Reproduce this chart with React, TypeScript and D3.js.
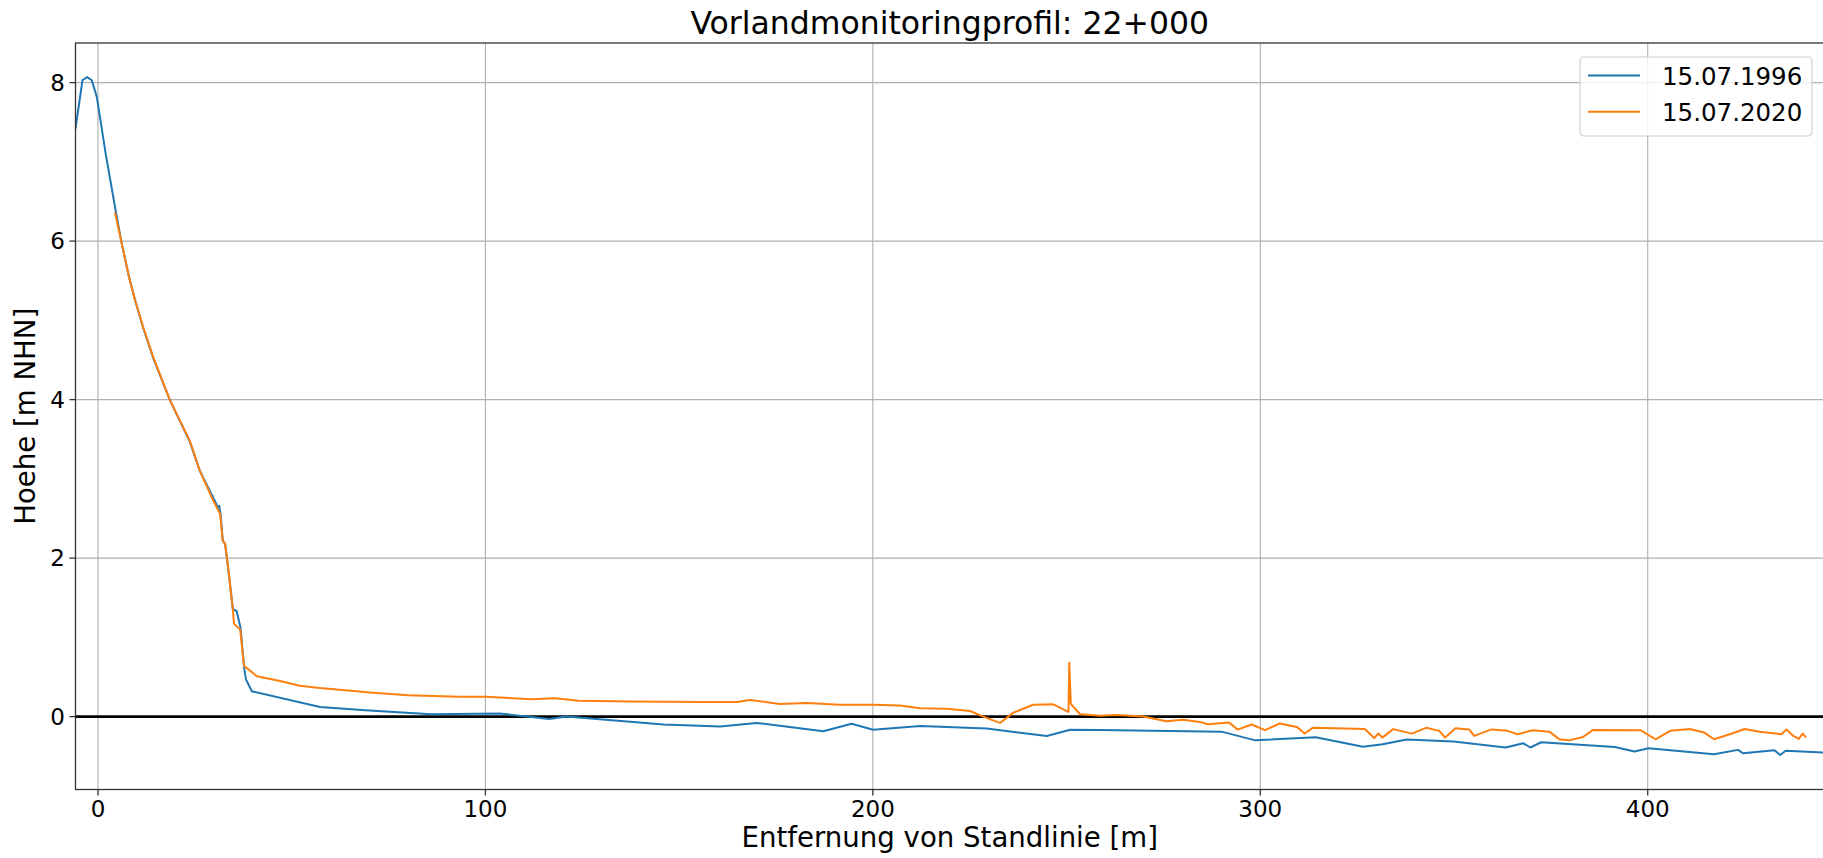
import React from "react";
import * as d3 from "d3";

// ---- data ----
const dist1996 = [-5.8, -4.0, -2.8, -1.6, -0.3, 2, 4.4, 6, 8, 9.6, 11.7, 14.3, 18.6, 23.7, 26.3, 31.0, 31.3, 31.7, 32.2, 32.8, 33.6, 34.8, 35.8, 36.8, 37.7, 38.2, 39.7, 57.3, 69, 86, 103.6, 116.5, 120.8, 146, 160.6, 170, 187.2, 194.5, 200.1, 212.2, 229.4, 244.9, 250.9, 258.7, 290, 298.7, 314.3, 326.5, 331.6, 337.8, 349.9, 363.3, 367.9, 369.7, 372.5, 391.5, 396.6, 400.2, 417.1, 423.3, 424.6, 432.7, 434.2, 435.6, 448];
const elev1996 = [7.42, 8.03, 8.07, 8.03, 7.82, 7.1, 6.43, 6.0, 5.55, 5.25, 4.9, 4.52, 3.99, 3.47, 3.10, 2.64, 2.66, 2.53, 2.22, 2.18, 1.88, 1.36, 1.33, 1.12, 0.62, 0.47, 0.32, 0.12, 0.08, 0.03, 0.04, -0.03, 0.0, -0.1, -0.126, -0.08, -0.185, -0.09, -0.165, -0.12, -0.15, -0.245, -0.165, -0.17, -0.19, -0.30, -0.26, -0.38, -0.35, -0.29, -0.315, -0.39, -0.337, -0.39, -0.324, -0.383, -0.44, -0.40, -0.476, -0.42, -0.463, -0.425, -0.484, -0.43, -0.46];

const dist2020 = [4.4, 6, 8, 9.6, 11.7, 14.3, 18.6, 23.7, 26.3, 29.8, 31.5, 32.2, 32.8, 33.6, 34.8, 35.1, 36.7, 37.7, 41, 47, 52.1, 57.3, 71, 80, 93.4, 100, 112, 118, 124, 138, 155.4, 164.9, 168.3, 176, 183, 191.5, 200.1, 207, 212.2, 219, 225.1, 228.5, 232.8, 236.3, 241.4, 246.6, 250.5, 250.7, 251.1, 253.5, 258.7, 262.9, 269.8, 275.8, 280.1, 284.4, 286.5, 292, 294.1, 297.8, 301.2, 305, 309.4, 311.5, 313.6, 327, 329.4, 330.5, 331.5, 334.3, 339.1, 342.8, 346.2, 347.7, 350.4, 353.9, 355.2, 359.7, 363.8, 366.4, 370.3, 374.6, 377.2, 379.7, 383.3, 385.9, 398.2, 402, 405.8, 410.9, 414.5, 417.1, 421.2, 425, 428.9, 434.5, 435.8, 437.6, 439, 440, 440.9];
const elev2020 = [6.36, 6.0, 5.55, 5.25, 4.91, 4.53, 3.99, 3.48, 3.1, 2.72, 2.56, 2.22, 2.18, 1.88, 1.36, 1.17, 1.10, 0.64, 0.51, 0.45, 0.39, 0.36, 0.30, 0.27, 0.25, 0.25, 0.22, 0.23, 0.20, 0.19, 0.185, 0.185, 0.21, 0.16, 0.17, 0.15, 0.15, 0.14, 0.105, 0.10, 0.07, 0.0, -0.08, 0.05, 0.15, 0.155, 0.06, 0.68, 0.16, 0.03, 0.01, 0.02, 0.0, -0.06, -0.04, -0.067, -0.097, -0.076, -0.164, -0.10, -0.17, -0.087, -0.13, -0.213, -0.14, -0.156, -0.27, -0.213, -0.265, -0.158, -0.215, -0.142, -0.18, -0.265, -0.148, -0.162, -0.244, -0.162, -0.18, -0.223, -0.173, -0.19, -0.286, -0.30, -0.257, -0.168, -0.173, -0.286, -0.18, -0.156, -0.20, -0.286, -0.223, -0.156, -0.19, -0.223, -0.164, -0.244, -0.282, -0.215, -0.265];

const seriesNames = ["15.07.1996", "15.07.2020"];
const seriesColors = ["#1f77b4", "#ff7f0e"];
const xTicks = [0, 100, 200, 300, 400];
const yTicks = [0, 2, 4, 6, 8];
const xDomain = [-5.8, 445.5];
const yDomain = [-0.92, 8.5];

const titleText = "Vorlandmonitoringprofil: 22+000";
const xLabel = "Entfernung von Standlinie [m]";
const yLabel = "Hoehe [m NHN]";

export default function App() {
  const W = 1823, H = 858;
  const L = 75.5, T = 43, R = 1824, B = 789.5;
  const font = "DejaVu Sans, Verdana, sans-serif";
  const x = d3.scaleLinear().domain(xDomain).range([L, R]);
  const y = d3.scaleLinear().domain(yDomain).range([B, T]);
  const line = d3
    .line<[number, number]>()
    .x((d) => x(d[0]))
    .y((d) => y(d[1]));
  const s1: [number, number][] = dist1996.map((d, i) => [d, elev1996[i]]);
  const s2: [number, number][] = dist2020.map((d, i) => [d, elev2020[i]]);

  return (
    <svg
      width={W}
      height={H}
      style={{ position: "absolute", left: 0, top: 0, display: "block", background: "#fff" }}
      fontFamily={font}
    >
      <defs>
        <clipPath id="plotclip">
          <rect x={L} y={T} width={R - L} height={B - T} />
        </clipPath>
      </defs>
      <rect x={0} y={0} width={W} height={H} fill="#fff" />
      {/* grid */}
      {xTicks.map((t) => (
        <line key={"gx" + t} x1={x(t)} x2={x(t)} y1={T} y2={B} stroke="#b0b0b0" strokeWidth={1.1} />
      ))}
      {yTicks.map((t) => (
        <line key={"gy" + t} x1={L} x2={R} y1={y(t)} y2={y(t)} stroke="#b0b0b0" strokeWidth={1.1} />
      ))}
      <g clipPath="url(#plotclip)">
        <line x1={L} x2={R} y1={y(0)} y2={y(0)} stroke="#000" strokeWidth={2.7} />
        <path d={line(s1) || ""} fill="none" stroke={seriesColors[0]} strokeWidth={2} strokeLinejoin="round" />
        <path d={line(s2) || ""} fill="none" stroke={seriesColors[1]} strokeWidth={2} strokeLinejoin="round" />
      </g>
      {/* spines */}
      <rect x={L} y={T} width={R - L} height={B - T} fill="none" stroke="#333" strokeWidth={1.3} />
      {/* x ticks */}
      {xTicks.map((t) => (
        <g key={"xt" + t}>
          <line x1={x(t)} x2={x(t)} y1={B} y2={B + 6} stroke="#333" strokeWidth={1.3} />
          <text x={x(t)} y={817} fontSize={23} textAnchor="middle" fill="#000">
            {t}
          </text>
        </g>
      ))}
      {/* y ticks */}
      {yTicks.map((t) => (
        <g key={"yt" + t}>
          <line x1={L - 6} x2={L} y1={y(t)} y2={y(t)} stroke="#333" strokeWidth={1.3} />
          <text x={65} y={y(t) + 8.3} fontSize={23} textAnchor="end" fill="#000">
            {t}
          </text>
        </g>
      ))}
      {/* title & labels */}
      <text x={(L + R) / 2} y={34} fontSize={31.5} textAnchor="middle" fill="#000">
        {titleText}
      </text>
      <text x={(L + R) / 2} y={847} fontSize={27.6} textAnchor="middle" fill="#000">
        {xLabel}
      </text>
      <text
        transform={`translate(${35},${(T + B) / 2}) rotate(-90)`}
        fontSize={27.6}
        textAnchor="middle"
        fill="#000"
      >
        {yLabel}
      </text>
      {/* legend */}
      <rect x={1580} y={57} width={232} height={79} rx={4} fill="#fff" fillOpacity={0.8} stroke="#cccccc" strokeWidth={1.1} />
      {seriesNames.map((n, i) => (
        <g key={n}>
          <line x1={1588} x2={1640} y1={75.5 + i * 36.3} y2={75.5 + i * 36.3} stroke={seriesColors[i]} strokeWidth={2} />
          <text x={1662} y={84.5 + i * 36.3} fontSize={24.5} fill="#000">
            {n}
          </text>
        </g>
      ))}
    </svg>
  );
}
